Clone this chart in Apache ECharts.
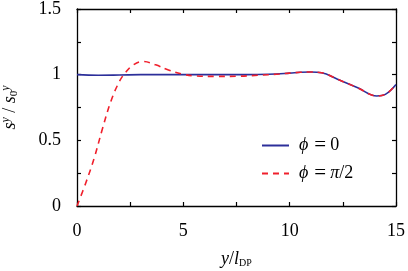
<!DOCTYPE html>
<html><head><meta charset="utf-8">
<script src="https://cdn.jsdelivr.net/npm/echarts@6/dist/echarts.min.js"></script>
<style>html,body{margin:0;padding:0;background:#fff}#c{width:408px;height:271px}</style>
</head><body><div id="c"></div>
<script>
var blueX = [0, 1, 2, 3, 4, 5, 6, 7, 8, 9, 10, 10.5, 11, 11.5, 12.25, 13.2, 14.1, 14.5, 15];
var blueY = [1.0, 0.995, 0.997, 1.0, 1.0, 1.0, 1.0, 1.0, 1.0, 1.003, 1.012, 1.018, 1.02, 1.015, 0.965, 0.9, 0.838, 0.85, 0.925];
var redX = [0, 0.4, 0.8, 1.2, 1.6, 2.0, 2.3, 2.65, 3.1, 3.7, 4.3, 5.0, 5.6, 6.5, 7.5, 8.5, 9.5, 10.5, 11, 11.5, 12.25, 13.2, 14.1, 14.5, 15];
var redY = [0, 0.17, 0.36, 0.59, 0.8, 0.95, 1.02, 1.075, 1.1, 1.075, 1.035, 1.003, 0.99, 0.987, 0.988, 0.995, 1.005, 1.018, 1.02, 1.015, 0.965, 0.9, 0.838, 0.85, 0.925];
var xTicks = [0, 5, 10, 15];
var yTicks = [0, 0.5, 1, 1.5];
var seriesNames = ['φ0', 'φpi'];

function pairs(xs, ys){ return xs.map(function(x,i){return [x, ys[i]];}); }
var F = 'Liberation Serif';
var chart = echarts.init(document.getElementById('c'), null, {renderer:'canvas'});
var axisLine = {show:true, onZero:false, lineStyle:{color:'#000', width:1.3}};
var tick = {show:true, inside:true, length:4, lineStyle:{color:'#000', width:1.2}};
chart.setOption({
  animation:false,
  grid:{left:77, right:12, top:9, bottom:65, outerBoundsMode:'none', containLabel:false},
  legend:{
    data:seriesNames, orient:'vertical', left:261, top:135, padding:0, itemWidth:27, itemHeight:10, itemGap:7,
    itemStyle:{opacity:0},
    textStyle:{fontFamily:F, fontSize:18, color:'#000', padding:[0,0,0,5],
      rich:{i:{fontFamily:F, fontStyle:'italic', fontSize:18}, n:{fontFamily:F, fontSize:18},
            eq:{fontFamily:F, fontSize:21, padding:[0,4,0,6]}}},
    formatter:function(n){ return n==='φ0' ? '{i|ϕ}{eq|=}{n|0}' : '{i|ϕ}{eq|=}{i|π}{n|/2}'; }
  },
  xAxis:[{type:'value', min:0, max:15, interval:2.5, position:'bottom',
    axisLine:axisLine, axisTick:tick, splitLine:{show:false},
    axisLabel:{fontFamily:F, fontSize:18, color:'#000', margin:16,
      formatter:function(v){ return xTicks.indexOf(v)>=0 ? String(v) : ''; }},
    name:'{i|y}{n|/}{i|l}{s|DP}', nameLocation:'middle', nameGap:44,
    nameTextStyle:{rich:{i:{fontFamily:F, fontStyle:'italic', fontSize:18, color:'#000'}, n:{fontFamily:F, fontSize:18, color:'#000'}, s:{fontFamily:F, fontSize:10, color:'#000', padding:[8,0,0,0]}}}
  },{type:'value', min:0, max:15, interval:2.5, position:'top',
    axisLine:axisLine, axisTick:tick, axisLabel:{show:false}, splitLine:{show:false}}],
  yAxis:[{type:'value', min:0, max:1.5, interval:0.25, position:'left',
    axisLine:axisLine, axisTick:tick, splitLine:{show:false},
    axisLabel:{fontFamily:F, fontSize:18, color:'#000', margin:16,
      formatter:function(v){ return yTicks.indexOf(v)>=0 ? String(v) : ''; }},
    name:'{i|s}{sup|y}{n| / }{i|s}{sub|0}{sup|y}', nameLocation:'middle', nameGap:57, nameRotate:90,
    nameTextStyle:{rich:{i:{fontFamily:F, fontStyle:'italic', fontSize:18, color:'#000'}, n:{fontFamily:F, fontSize:18, color:'#000'}, sup:{fontFamily:F, fontStyle:'italic', fontSize:12, color:'#000', padding:[0,0,8,0]}, sub:{fontFamily:F, fontSize:11, color:'#000', padding:[8,0,0,0]}}}
  },{type:'value', min:0, max:1.5, interval:0.25, position:'right',
    axisLine:axisLine, axisTick:tick, axisLabel:{show:false}, splitLine:{show:false}}],
  series:[
    {name:'φ0', type:'line', data:pairs(blueX, blueY), smooth:0.4, symbol:'none', z:3,
      lineStyle:{color:'#2c2f9a', width:1.6}, itemStyle:{color:'#2c2f9a'}},
    {name:'φpi', type:'line', data:pairs(redX, redY), smooth:0.4, symbol:'none', z:4,
      lineStyle:{color:'#f0202c', width:1.6, type:[6,5]}, itemStyle:{color:'#f0202c'}}
  ]
});
</script></body></html>
